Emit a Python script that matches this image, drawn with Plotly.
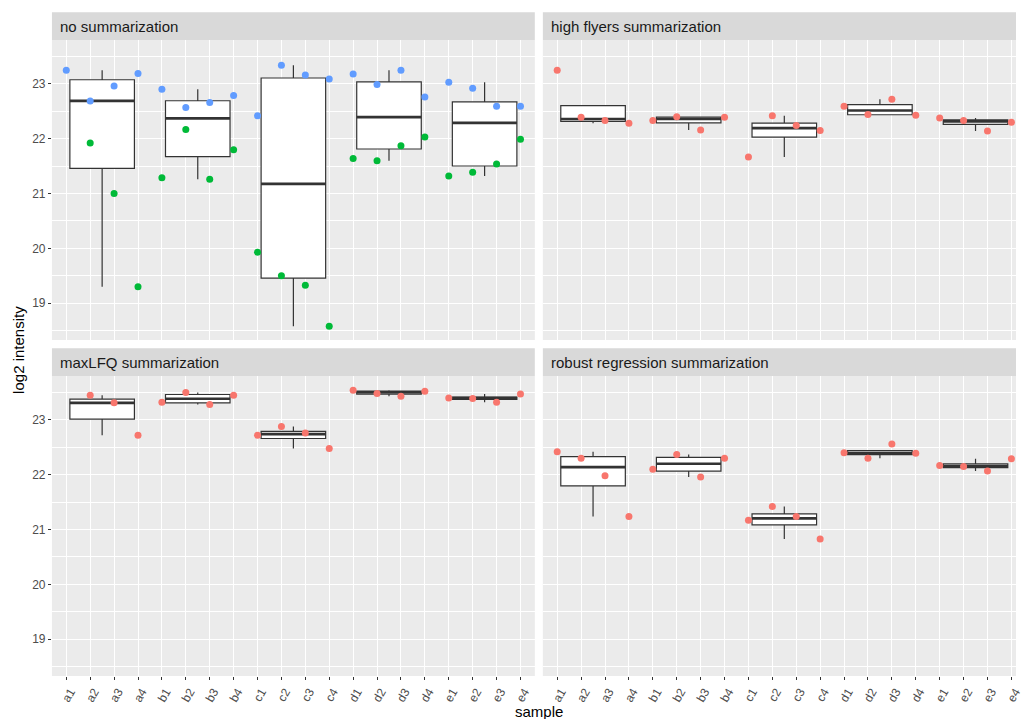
import numpy as np
import plotly.graph_objects as go

W, H = 1023, 719

samples = ["a1", "a2", "a3", "a4", "b1", "b2", "b3", "b4", "c1", "c2", "c3", "c4",
           "d1", "d2", "d3", "d4", "e1", "e2", "e3", "e4"]
groups = ["a", "b", "c", "d", "e"]

# no summarization: two features per sample
feature1 = [23.25, 22.69, 22.96, 23.19, 22.90, 22.57, 22.66, 22.79, 22.42, 23.34,
            23.16, 23.09, 23.18, 22.99, 23.25, 22.76, 23.03, 22.92, 22.59, 22.59]
feature2 = [None, 21.92, 21.00, 19.30, 21.29, 22.17, 21.26, 21.80, 19.93, 19.50,
            19.33, 18.58, 21.64, 21.60, 21.87, 22.03, 21.32, 21.39, 21.54, 21.99]

high_flyers = [23.25, 22.39, 22.33, 22.28, 22.33, 22.40, 22.16, 22.39, 21.665, 22.42,
               22.24, 22.15, 22.59, 22.44, 22.72, 22.43, 22.38, 22.33, 22.14, 22.30]
maxlfq = [None, 23.45, 23.31, 22.72, 23.32, 23.50, 23.28, 23.45, 22.72, 22.88,
          22.76, 22.48, 23.54, 23.48, 23.43, 23.52, 23.40, 23.39, 23.32, 23.47]
robust = [22.42, 22.30, 21.98, 21.24, 22.10, 22.37, 21.96, 22.30, 21.17, 21.42,
          21.24, 20.83, 22.40, 22.30, 22.56, 22.39, 22.17, 22.15, 22.07, 22.29]

panel_titles = ["no summarization", "high flyers summarization",
                "maxLFQ summarization", "robust regression summarization"]

BLUE, GREEN, RED = "#619CFF", "#00BA38", "#F8766D"
BOX_LINE = "#333333"
FONT = "Liberation Sans, Arial, sans-serif"

xpos = np.arange(1, len(samples) + 1)
box_width = 2.7

# panel geometry in pixels
left_x = (52.3, 538.5)
right_x = (546.6, 1023.0)
top_y = (40.0, 340.0)
bot_y = (376.0, 676.0)
strip_h = 27.7
unit_px = (left_x[1] - left_x[0]) / 20.2
y_range = [18.33, 23.80]


def xdom(px):
    return [px[0] / W, px[1] / W]


def ydom(py):
    return [1 - py[1] / H, 1 - py[0] / H]


def box_stats(vals):
    """Tukey box statistics with type-7 quantiles (whiskers to 1.5 IQR)."""
    v = np.sort(np.asarray(vals, dtype=float))
    q1, med, q3 = np.percentile(v, [25, 50, 75])
    iqr = q3 - q1
    lo = v[v >= q1 - 1.5 * iqr].min()
    hi = v[v <= q3 + 1.5 * iqr].max()
    return float(q1), float(med), float(q3), float(min(lo, q1)), float(max(hi, q3))


fig = go.Figure()

panels = [
    ("x", "y", [(feature1, BLUE), (feature2, GREEN)]),
    ("x2", "y2", [(high_flyers, RED)]),
    ("x3", "y3", [(maxlfq, RED)]),
    ("x4", "y4", [(robust, RED)]),
]

for xa, ya, series in panels:
    for g in groups:
        idx = [i for i, s in enumerate(samples) if s[0] == g]
        vals = [v for vals_, _ in series for v in (vals_[i] for i in idx) if v is not None]
        center = float(np.mean(xpos[idx]))
        q1, med, q3, lf, uf = box_stats(vals)
        fig.add_trace(go.Box(
            x=[center], q1=[q1], median=[med], q3=[q3], lowerfence=[lf], upperfence=[uf],
            xaxis=xa, yaxis=ya, width=box_width, whiskerwidth=0, boxpoints=False,
            fillcolor="white", line=dict(color=BOX_LINE, width=1.2),
            showlegend=False, hoverinfo="skip",
        ))
        fig.add_trace(go.Scatter(
            x=[center - box_width / 2, center + box_width / 2], y=[med, med],
            xaxis=xa, yaxis=ya, mode="lines",
            line=dict(color=BOX_LINE, width=2.7), showlegend=False, hoverinfo="skip",
        ))
    for vals_, col in series:
        fig.add_trace(go.Scatter(
            x=xpos, y=vals_, xaxis=xa, yaxis=ya, mode="markers",
            marker=dict(color=col, size=7, line=dict(width=0)),
            showlegend=False, hoverinfo="skip",
        ))

common_x = dict(
    tickmode="array", tickvals=list(xpos), ticktext=samples,
    showgrid=True, gridcolor="white", gridwidth=1.1, zeroline=False,
    showline=False,
)
common_y = dict(
    range=y_range, tickmode="linear", tick0=0, dtick=1,
    showgrid=True, gridcolor="white", gridwidth=1.1, zeroline=False, showline=False,
    minor=dict(dtick=0.5, tick0=0, showgrid=True, gridcolor="white", gridwidth=0.55),
)
bottom_ticks = dict(
    ticks="outside", ticklen=3, tickcolor=BOX_LINE, tickwidth=1.1,
    showticklabels=True, tickangle=-60, ticklabeloverflow="allow", ticklabelshift=4,
    tickfont=dict(family=FONT, size=12, color="#4D4D4D"),
)
left_ticks = dict(
    ticks="outside", ticklen=3, tickcolor=BOX_LINE, tickwidth=1.1,
    showticklabels=True, tickfont=dict(family=FONT, size=12, color="#4D4D4D"),
)
no_ticks = dict(ticks="", showticklabels=False)

right_range = [0.4, 0.4 + (right_x[1] - right_x[0]) / unit_px]

fig.update_layout(
    width=W, height=H,
    margin=dict(l=0, r=0, t=0, b=0),
    paper_bgcolor="white", plot_bgcolor="#EBEBEB",
    boxmode="overlay",
    font=dict(family=FONT),
    xaxis=dict(domain=xdom(left_x), range=[0.4, 20.6], anchor="y", **common_x, **no_ticks),
    xaxis2=dict(domain=xdom(right_x), range=right_range, anchor="y2", **common_x, **no_ticks),
    xaxis3=dict(domain=xdom(left_x), range=[0.4, 20.6], anchor="y3", **common_x, **bottom_ticks),
    xaxis4=dict(domain=xdom(right_x), range=right_range, anchor="y4", **common_x, **bottom_ticks),
    yaxis=dict(domain=ydom(top_y), anchor="x", **common_y, **left_ticks),
    yaxis2=dict(domain=ydom(top_y), anchor="x2", **common_y, **no_ticks),
    yaxis3=dict(domain=ydom(bot_y), anchor="x3", **common_y, **left_ticks),
    yaxis4=dict(domain=ydom(bot_y), anchor="x4", **common_y, **no_ticks),
)

# facet strips
shapes, annotations = [], []
for title, xs, ys in [(panel_titles[0], left_x, top_y), (panel_titles[1], right_x, top_y),
                      (panel_titles[2], left_x, bot_y), (panel_titles[3], right_x, bot_y)]:
    shapes.append(dict(type="rect", xref="paper", yref="paper",
                       x0=xs[0] / W, x1=xs[1] / W,
                       y0=1 - ys[0] / H, y1=1 - (ys[0] - strip_h) / H,
                       fillcolor="#D9D9D9", line=dict(width=0), layer="below"))
    annotations.append(dict(text=title, xref="paper", yref="paper",
                            x=(xs[0] + 6.5) / W, y=1 - (ys[0] - strip_h / 2) / H,
                            xanchor="left", yanchor="middle", showarrow=False,
                            font=dict(family=FONT, size=15, color="#1A1A1A")))

annotations.append(dict(text="sample", xref="paper", yref="paper",
                        x=542.5 / W, y=1 - 711 / H, xanchor="center", yanchor="middle",
                        showarrow=False, font=dict(family=FONT, size=15, color="black")))
annotations.append(dict(text="log2 intensity", xref="paper", yref="paper",
                        x=18 / W, y=1 - 350 / H, xanchor="center", yanchor="middle",
                        textangle=-90, showarrow=False,
                        font=dict(family=FONT, size=15, color="black")))

fig.update_layout(shapes=shapes, annotations=annotations)

fig.write_html("out.html")
